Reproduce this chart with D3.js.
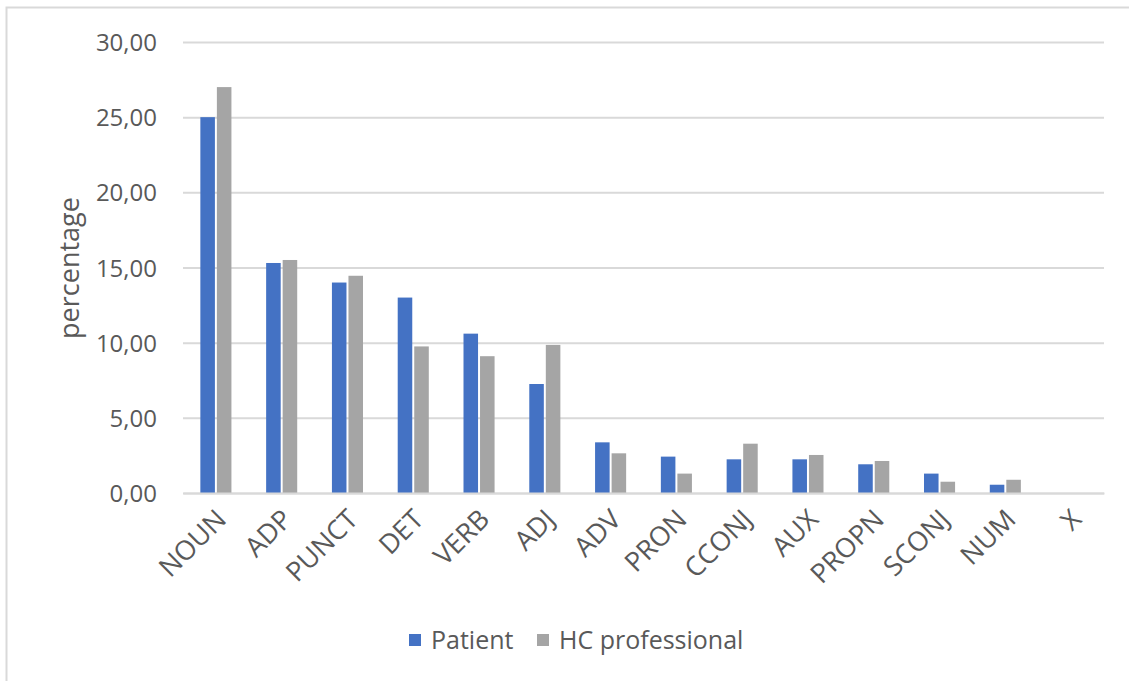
<!DOCTYPE html>
<html><head><meta charset="utf-8">
<script src="https://cdn.jsdelivr.net/npm/d3@7"></script>
<style>body{margin:0;background:#fff;}svg{display:block;} text{font-family:"Open Sans","Noto Sans",sans-serif;}</style>
</head><body>
<svg id="c" width="1129" height="681"></svg>
<script>
const categories = ["NOUN","ADP","PUNCT","DET","VERB","ADJ","ADV","PRON","CCONJ","AUX","PROPN","SCONJ","NUM","X"];
const patient = [25.0, 15.3, 14.0, 13.0, 10.6, 7.25, 3.37, 2.42, 2.24, 2.24, 1.91, 1.29, 0.55, 0];
const hcProfessional = [27.0, 15.5, 14.45, 9.75, 9.1, 9.85, 2.64, 1.29, 3.28, 2.53, 2.13, 0.75, 0.88, 0];
const seriesNames = ["Patient", "HC professional"];
const yTicks = [0, 5, 10, 15, 20, 25, 30];
const colors = ["#4472C4", "#A5A5A5"];

const svg = d3.select("#c");
svg.append("rect").attr("x",6.5).attr("y",7.5).attr("width",1140).attr("height",700)
  .attr("fill","none").attr("stroke","#d9d9d9").attr("stroke-width",2);

const pLeft = 183, pRight = 1104, pTop = 42, pBottom = 493;
const x = d3.scaleBand().domain(categories).range([pLeft, pRight]).paddingInner(0).paddingOuter(0);
const y = d3.scaleLinear().domain([0, 30]).range([pBottom, pTop]);
const xs = d3.scaleBand().domain(seriesNames).range([0, x.bandwidth()]).paddingInner(0.12).paddingOuter(1.05);

// gridlines
const yAxis = d3.axisLeft(y).tickValues(yTicks).tickSize(-(pRight-pLeft)).tickPadding(26)
  .tickFormat(d => d3.format(".2f")(d).replace(".", ","));
const ga = svg.append("g").attr("transform", `translate(${pLeft},0)`).call(yAxis).attr("font-family", null);
ga.select(".domain").remove();
ga.selectAll(".tick line").attr("stroke","#d9d9d9").attr("stroke-width",2);
ga.selectAll(".tick text").attr("fill","#595959").style("font-size","24px").attr("dy","0.36em");

const data = categories.map((c,i)=>({c, vals:[patient[i], hcProfessional[i]]}));
const g = svg.append("g");
data.forEach(d=>{
  d.vals.forEach((v,j)=>{
    g.append("rect").attr("x", x(d.c)+xs(seriesNames[j])).attr("width", xs.bandwidth())
      .attr("y", y(v)).attr("height", y(0)-y(v)).attr("fill", colors[j]);
  });
});

// x axis
const xAxis = d3.axisBottom(x).tickSize(0).tickPadding(0);
const gx = svg.append("g").attr("transform", `translate(0,${pBottom})`).call(xAxis).attr("font-family", null);
gx.select(".domain").attr("stroke","#d9d9d9").attr("stroke-width",2);
gx.selectAll(".tick text").attr("fill","#595959").style("font-size","27px")
  .attr("text-anchor","end").attr("dy","0").attr("y",0)
  .attr("transform","translate(12,28) rotate(-45)");

// y label
svg.append("text").attr("transform","translate(79,268) rotate(-90)").attr("text-anchor","middle")
  .attr("fill","#595959").style("font-size","27px").text("percentage");

// legend
const leg = svg.append("g");
const lx = [409, 537];
seriesNames.forEach((n,j)=>{
  leg.append("rect").attr("x",lx[j]).attr("y",634).attr("width",12).attr("height",12).attr("fill",colors[j]);
  leg.append("text").attr("x",lx[j]+22).attr("y",649).attr("fill","#595959").style("font-size","25px").text(n);
});
</script>
</body></html>
